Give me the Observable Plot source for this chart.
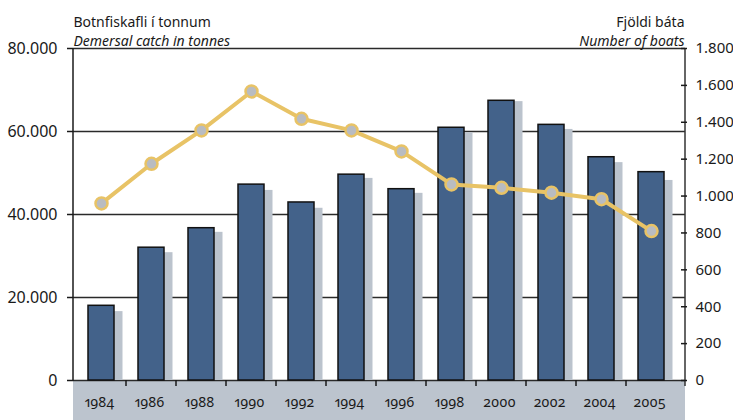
<!DOCTYPE html>
<html><head><meta charset="utf-8">
<script src="https://cdn.jsdelivr.net/npm/d3@7"></script>
<script src="https://cdn.jsdelivr.net/npm/@observablehq/plot@0.6"></script>
<style>
body{margin:0;background:#fff}
#chart svg{display:block}
</style>
</head><body><div id="chart"></div>
<script>
const years = ["1984","1986","1988","1990","1992","1994","1996","1998","2000","2002","2004","2005"];
const catchTonnes = [18000, 32000, 36700, 47200, 42900, 49600, 46100, 60900, 67400, 61600, 53800, 50200];
const catchShadow = [16600, 30800, 35700, 45800, 41500, 48700, 45100, 59700, 67200, 60500, 52500, 48200];
const boats = [960, 1175, 1356, 1567, 1419, 1356, 1242, 1063, 1045, 1018, 983, 810];
const leftTicks = [0, 20000, 40000, 60000, 80000];
const rightTicks = [0, 200, 400, 600, 800, 1000, 1200, 1400, 1600, 1800];
const leftTitle = ["Botnfiskafli í tonnum", "Demersal catch in tonnes"];
const rightTitle = ["Fjöldi báta", "Number of boats"];

const k = 80000 / 1800;
const data = years.map((year, i) => ({year, catch: catchTonnes[i], shadow: catchShadow[i], boats: boats[i] * k}));
const fmt = v => d3.format(",")(v).replace(/,/g, ".");

function bottomBand(index, scales, values, dims) {
  const {width, height, marginLeft, marginRight, marginBottom} = dims;
  const g = d3.create("svg:g");
  g.append("rect")
    .attr("x", marginLeft).attr("y", height - marginBottom)
    .attr("width", width - marginLeft - marginRight).attr("height", marginBottom)
    .attr("fill", "#bcc4ce");
  return g.node();
}

function frameLines(index, scales, values, dims) {
  const {width, height, marginLeft, marginRight, marginBottom, marginTop} = dims;
  const yb = height - marginBottom;
  const g = d3.create("svg:g").attr("stroke", "#1a1a1a").attr("stroke-width", 1.5);
  g.append("line").attr("x1", marginLeft).attr("x2", marginLeft).attr("y1", marginTop).attr("y2", yb + 1);
  g.append("line").attr("x1", width - marginRight).attr("x2", width - marginRight).attr("y1", marginTop).attr("y2", yb + 6).attr("stroke", "#333");
  const x = scales.x;
  years.slice(1).forEach(y => {
    const px = x(y);
    g.append("line").attr("x1", px).attr("x2", px).attr("y1", yb).attr("y2", yb + 6);
  });
  return g.node();
}

const chart = Plot.plot({
  width: 733,
  height: 420,
  marginTop: 48,
  marginBottom: 40,
  marginLeft: 73,
  marginRight: 48,
  style: {fontFamily: "'Noto Sans', sans-serif", fontVariantNumeric: "oldstyle-nums proportional-nums", color: "#1a1a1a", background: "#fff"},
  x: {type: "band", domain: years, padding: 0, insetLeft: 2.4, insetRight: 7.8, axis: null, label: null},
  y: {domain: [0, 80000], axis: null, label: null},
  marks: [
    bottomBand,
    Plot.ruleY(leftTicks, {stroke: "#2a2a2a", strokeWidth: 1.5}),
    Plot.barY(data, {x: "year", y: "shadow", fill: "#bbc3cd", insetLeft: 19, insetRight: 3.5}),
    Plot.barY(data, {x: "year", y: "catch", fill: "#43628a", stroke: "#111", strokeWidth: 1.5, insetLeft: 12, insetRight: 12}),
    Plot.line(data, {x: "year", y: "boats", stroke: "#e8c366", strokeWidth: 4}),
    Plot.dot(data, {x: "year", y: "boats", r: 6, fill: "#b9bcc1", stroke: "#e8c366", strokeWidth: 2.5}),
    frameLines,
    Plot.axisX({tickSize: 0, tickPadding: 17, fontSize: 14, dx: -2, label: null}),
    Plot.axisY({anchor: "left", ticks: leftTicks, tickFormat: fmt, tickSize: 6, tickPadding: 10, fontSize: 16, strokeWidth: 1.5, label: null}),
    Plot.axisY({anchor: "right", ticks: rightTicks.map(v => v * k), tickFormat: v => fmt(Math.round(v / k)), tickSize: 6, dx: -5, tickPadding: 9, fontSize: 15, strokeWidth: 1.5, label: null}),
    Plot.text([leftTitle[0]], {frameAnchor: "top-left", text: d => d, dy: -31, textAnchor: "start", fontSize: 14}),
    Plot.text([leftTitle[1]], {frameAnchor: "top-left", text: d => d, dy: -12, textAnchor: "start", fontSize: 14, fontStyle: "italic"}),
    Plot.text([rightTitle[0]], {frameAnchor: "top-right", text: d => d, dy: -31, dx: -1, textAnchor: "end", fontSize: 14}),
    Plot.text([rightTitle[1]], {frameAnchor: "top-right", text: d => d, dy: -12, dx: -1, textAnchor: "end", fontSize: 14, fontStyle: "italic"})
  ]
});
document.getElementById("chart").appendChild(chart);
</script>
</body></html>
